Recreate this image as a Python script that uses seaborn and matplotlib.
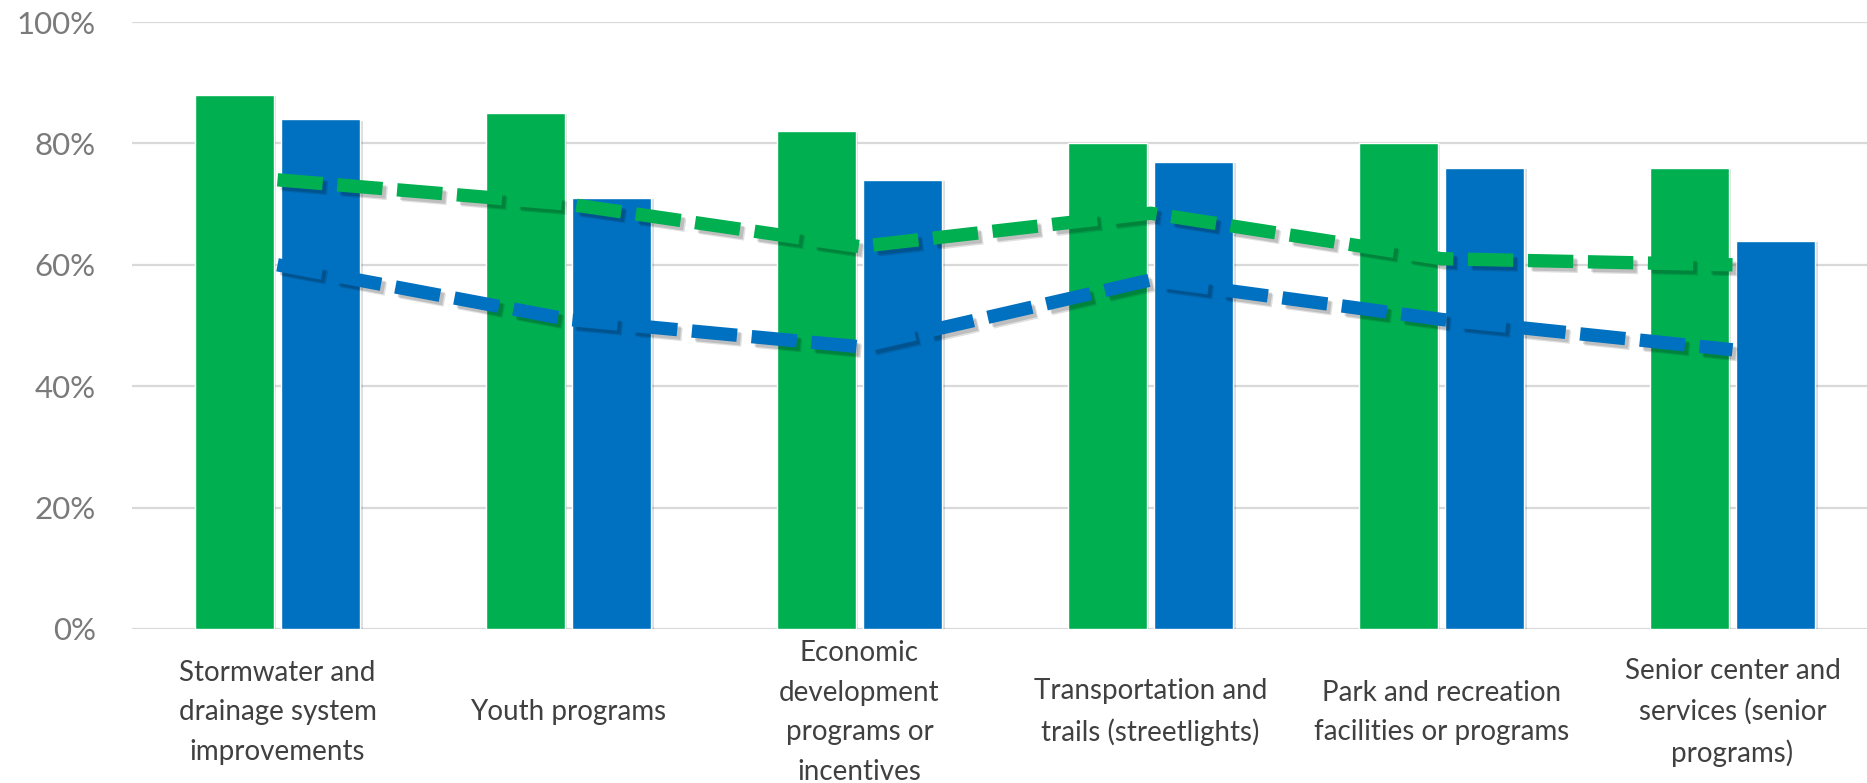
import numpy as np
import pandas as pd
import matplotlib
matplotlib.use('Agg')
import matplotlib.pyplot as plt
import matplotlib.patheffects as pe
import seaborn as sns

categories = ['Stormwater and\ndrainage system\nimprovements',
              'Youth programs',
              'Economic\ndevelopment\nprograms or\nincentives',
              'Transportation and\ntrails (streetlights)',
              'Park and recreation\nfacilities or programs',
              'Senior center and\nservices (senior\nprograms)']
green_bars = [88, 85, 82, 80, 80, 76]
blue_bars = [84, 71, 74, 77, 76, 64]
green_line = [74, 70, 63, 68.5, 61, 60]
blue_line = [60, 51, 46.5, 57.5, 51, 46]

GREEN = '#00B050'
BLUE = '#0070C0'

sns.set_theme(style='white')
plt.rcParams['font.family'] = ['Lato', 'DejaVu Sans']

df = pd.DataFrame({
    'category': categories * 2,
    'value': green_bars + blue_bars,
    'series': ['green'] * 6 + ['blue'] * 6,
})

fig = plt.figure(figsize=(18.67, 7.83), dpi=100)
ax = fig.add_axes([132 / 1867, 154 / 783, 1746 / 1867, 607 / 783])

sns.barplot(data=df, x='category', y='value', hue='series',
            palette=[GREEN, BLUE], saturation=1, width=0.595, gap=0.09,
            legend=False, ax=ax, zorder=2)
for p in ax.patches:
    p.set_path_effects([pe.SimplePatchShadow(offset=(2, -1), alpha=0.15), pe.Normal()])

# dashed lines with a soft drop shadow
x = np.arange(len(categories))
for vals, col in [(green_line, GREEN), (blue_line, BLUE)]:
    ln, = ax.plot(x, vals, color=col, lw=9.6, zorder=4)
    ln.set_dashes((3.4, 1.1))
    ln.set_dash_capstyle('butt')
    ln.set_path_effects([pe.SimpleLineShadow(offset=(3.5, -3.5), alpha=0.12, shadow_color='black'),
                         pe.SimpleLineShadow(offset=(2.5, -2.5), alpha=0.15, shadow_color='black'),
                         pe.Normal()])

ax.set_xlim(-0.5, 5.5)
ax.set_ylim(0, 100)
ax.set_yticks(np.arange(0, 101, 20))
ax.set_yticklabels([f'{v}%' for v in range(0, 101, 20)])
ax.yaxis.grid(True, color='#d9d9d9', lw=1.6, zorder=0)
ax.set_axisbelow(True)
sns.despine(ax=ax, left=True, bottom=True)
ax.set_xlabel('')
ax.set_ylabel('')

ax.tick_params(axis='y', length=0, pad=26, labelsize=22.5, labelcolor='#7a7a7a')
ax.tick_params(axis='x', length=0, pad=60, labelsize=20, labelcolor='#404040')
for t in ax.get_xticklabels():
    t.set_va('center')
    t.set_linespacing(1.65)

fig.savefig('out.png', dpi=100)
